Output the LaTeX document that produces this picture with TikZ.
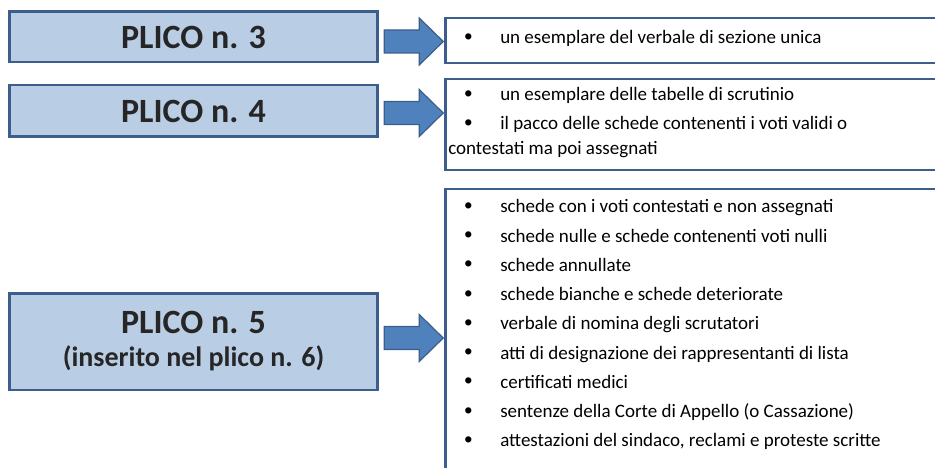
\documentclass[tikz,border=0pt]{standalone}
\usepackage{fontspec}
\setmainfont{Carlito}
\newfontfamily\puntino{Liberation Sans}
\usetikzlibrary{calc}

\definecolor{bordo}{HTML}{3B5E8C}
\definecolor{azzurro}{HTML}{B9CDE5}
\definecolor{freccia}{HTML}{4F81BD}

\tikzset{
  plico/.style={draw=bordo, line width=2.5pt, fill=azzurro, minimum width=368pt,
    inner sep=0pt, align=center, text=black!85, font=\bfseries},
  elenco/.style={draw=bordo, line width=2.5pt, fill=white, inner sep=0pt, anchor=north west},
  blocco/.style={draw=bordo, line width=1.2pt, fill=freccia, line join=miter}
}
\newcommand{\voce}[1]{\makebox[36pt][l]{\raisebox{-0.5pt}{\puntino\fontsize{23}{23}\selectfont •}}#1\par}
\newcommand{\riquadro}[3]{\begin{minipage}[c][#1][t]{506pt}\fontsize{19}{29.25}\selectfont
  \leftskip=19pt\rule{0pt}{#2}#3\end{minipage}}
\newcommand{\freccia}[1]{\draw [blocco, shift={(#1)}] (0,-11.5) -- (35,-11.5) -- (35,-23.5) -- (59,0)
  -- (35,23.5) -- (35,11.5) -- (0,11.5) -- cycle;}

\begin{document}
\begin{tikzpicture}[x=1pt, y=-1pt]
  \useasboundingbox (0,0) rectangle (935,468);
  \clip (0,0) rectangle (935,468);
  % plichi
  \node [plico, minimum height=50.5pt, font=\bfseries\fontsize{34}{36}\selectfont] (p3) at (193.5,37) {PLICO n. 3};
  \node [plico, minimum height=51.5pt, font=\bfseries\fontsize{34}{36}\selectfont] (p4) at (193.5,111) {PLICO n. 4};
  \node [plico, minimum height=96.5pt, font=\bfseries\fontsize{28}{30}\selectfont] (p5) at (193.5,341.5)
    {{\fontsize{34}{36}\selectfont PLICO n. 5}\\[3pt](inserito nel plico n. 6)};
  % contenuto
  \node [elenco] (l3) at (444,17) {\riquadro{45pt}{25.5pt}{\voce{un esemplare del verbale di sezione unica}}};
  \node [elenco] (l4) at (444,78) {\riquadro{91pt}{21.5pt}{%
    \voce{un esemplare delle tabelle di scrutinio}
    \voce{il pacco delle schede contenenti i voti validi o}
    \vspace{-4.5pt}\hspace{-19pt}\hspace{3pt}contestati ma poi assegnati\par}};
  \node [elenco] (l5) at (444,188) {\riquadro{300pt}{23.5pt}{%
    \voce{schede con i voti contestati e non assegnati}
    \voce{schede nulle e schede contenenti voti nulli}
    \voce{schede annullate}
    \voce{schede bianche e schede deteriorate}
    \voce{verbale di nomina degli scrutatori}
    \voce{atti di designazione dei rappresentanti di lista}
    \voce{certificati medici}
    \voce{sentenze della Corte di Appello (o Cassazione)}
    \voce{attestazioni del sindaco, reclami e proteste scritte}}};
  % frecce
  \coordinate (f3) at ($(p3.east)+(5.5,4.5)$);
  \coordinate (f4) at ($(p4.east)+(5.5,2)$);
  \coordinate (f5) at ($(p5.east)+(5.5,-3.5)$);
  \freccia{f3}
  \freccia{f4}
  \freccia{f5}
\end{tikzpicture}
\end{document}
